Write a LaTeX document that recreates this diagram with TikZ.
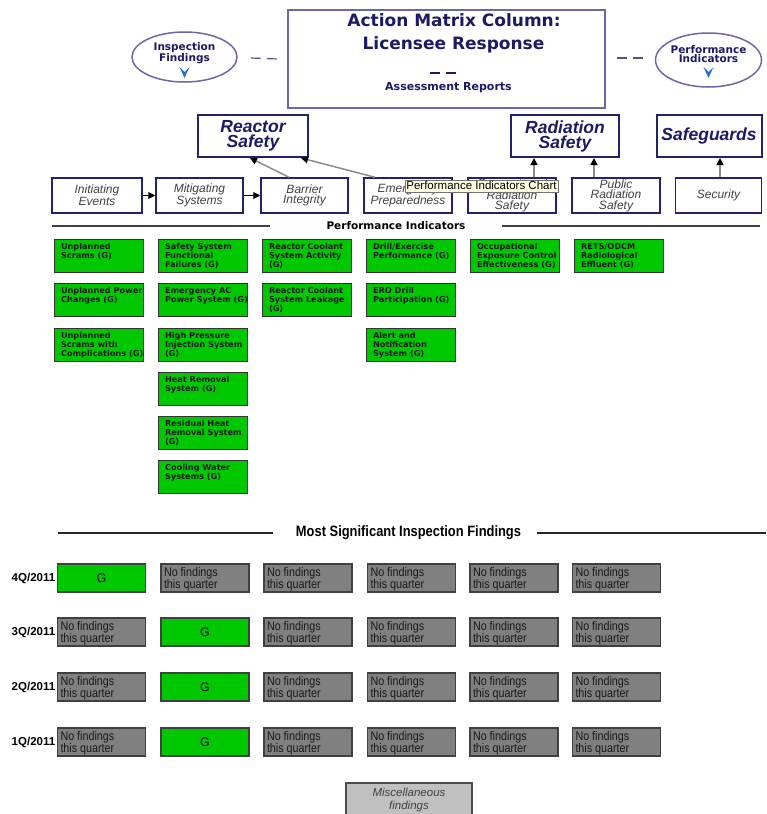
\documentclass[tikz,border=0pt]{standalone}
\usepackage{fontspec}
\setmainfont{Liberation Sans}
\newfontfamily\verd{DejaVu Sans}
\newfontfamily\narrowsf[FakeStretch=0.86]{Liberation Sans}
\usepackage{tikz}
\usetikzlibrary{arrows.meta,positioning,shapes.geometric,calc}

\definecolor{NavyText}{RGB}{26,26,102}
\definecolor{FrameBlue}{RGB}{104,104,170}
\definecolor{BoxNavy}{RGB}{34,34,112}
\definecolor{PIGreen}{RGB}{0,200,0}
\definecolor{NoFind}{RGB}{128,128,128}
\definecolor{MiscGrey}{RGB}{192,192,192}
\definecolor{TipYellow}{RGB}{255,255,225}
\definecolor{ChevBlue}{RGB}{40,110,210}

\newcommand{\pilines}[1]{\parbox[c][25pt][t]{76pt}{\begin{tabular}[t]{@{}l@{}}#1\end{tabular}}}
\newcommand{\nflines}{\parbox[c][22pt][t]{82pt}{\raggedright No findings\\this quarter}}

\tikzset{
  cornerstone/.style={draw=BoxNavy, line width=2pt, fill=white, minimum height=42pt, inner sep=0pt, align=center, text=NavyText, font=\fontsize{17.5}{15}\selectfont\bfseries\itshape},
  pillar/.style={draw=BoxNavy, line width=1.5pt, fill=white, minimum width=87pt, minimum height=35pt, inner sep=0pt, align=center, text=black!75, font=\fontsize{12}{10.5}\selectfont\itshape},
  pibox/.style={draw=black!80, line width=1pt, fill=PIGreen, minimum width=89pt, minimum height=33pt, inner xsep=6.5pt, inner ysep=4pt, anchor=north west, text=black!90, font=\verd\bfseries\fontsize{8.2}{9}\selectfont},
  nfbox/.style={draw=black!75, line width=1.2pt, fill=NoFind, minimum width=88pt, minimum height=28pt, inner xsep=3pt, inner ysep=3pt, text=black!90, font=\narrowsf\fontsize{12.5}{11.5}\selectfont},
  gbox/.style={draw=black!75, line width=1.2pt, fill=PIGreen, minimum width=88pt, minimum height=28pt, inner sep=0pt, font=\fontsize{12.5}{12.5}\selectfont},
  rowlab/.style={inner sep=0pt, font=\bfseries\fontsize{11.5}{11.5}\selectfont},
  hoop/.style={ellipse, draw=FrameBlue, line width=1.5pt, fill=white, inner sep=0pt},
  hooptext/.style={align=center, inner sep=0pt, text=NavyText, font=\verd\bfseries\fontsize{10.5}{9.5}\selectfont},
  flow/.style={line width=1pt, -{Triangle[length=7pt,width=7pt]}},
  feed/.style={draw=black!45, line width=1.5pt, -{Triangle[length=7pt,width=7pt,color=black]}},
  joiner/.style={draw=FrameBlue!80!black, line width=1.2pt, dash pattern=on 10pt off 6pt},
  rule/.style={draw=black!75, line width=1.5pt}
}

\begin{document}
\begin{tikzpicture}[x=1pt,y=-1pt]
\useasboundingbox (0,0) rectangle (766,814);
\fill[white] (0,0) rectangle (766,814);
\clip (0,0) rectangle (766,814);

% Action matrix
\node[draw=FrameBlue, line width=1.5pt, minimum width=317pt, minimum height=98pt] (amc) at (446.5,59) {};
\node[inner sep=0pt, text=NavyText, font=\verd\bfseries\fontsize{17}{17}\selectfont] (amct) at (454,20) {Action Matrix Column:};
\node[inner sep=0pt, text=NavyText, font=\verd\bfseries\fontsize{17}{17}\selectfont] (lrt) at (453.5,45) {Licensee Response};
\coordinate (amd) at (430,73);
\draw[joiner, draw=NavyText] (amd) -- ++(28,0);
\node[inner sep=0pt, text=NavyText, font=\verd\bfseries\fontsize{11}{11}\selectfont] (art) at (448.5,88) {Assessment Reports};

\node[hoop, minimum width=105pt, minimum height=50pt] (insp) at (184.5,57) {};
\node[hooptext] (inspt) at (184.5,53) {Inspection\\Findings};
\fill[ChevBlue] ($(insp.center)+(-5,10)$) -- ($(insp.center)+(0,15)$) -- ($(insp.center)+(5,10)$) -- ($(insp.center)+(0,21)$) -- cycle;
\node[hoop, minimum width=106pt, minimum height=54pt] (perf) at (708.5,60) {};
\node[hooptext] (perft) at (708.5,54) {Performance\\Indicators};
\fill[ChevBlue] ($(perf.center)+(-5,7)$) -- ($(perf.center)+(0,12)$) -- ($(perf.center)+(5,7)$) -- ($(perf.center)+(0,18)$) -- cycle;
\draw[joiner] ($(insp.east)+(13,1)$) -- ($(amc.west)+(-10,0)$);
\draw[joiner] ($(amc.east)+(11,-1)$) -- ($(perf.west)+(-12,-2)$);

% Cornerstones
\node[cornerstone, minimum width=110pt] (rs) at (253,136) {Reactor\\Safety};
\node[cornerstone, minimum width=108pt] (ras) at (565,136) {Radiation\\Safety};
\node[cornerstone, minimum width=105pt] (sg) at (709,136) {Safeguards};

\node[pillar, minimum width=90pt] (ie) at (97,195.5) {Initiating\\Events};
\node[pillar] (ms) at (199.5,195.5) {Mitigating\\Systems};
\node[pillar] (bi) at (304.5,195.5) {Barrier\\Integrity};
\node[pillar, minimum width=88pt] (ep) at (408,195.5) {Emergency\\Preparedness};
\node[pillar, minimum width=88pt] (ors) at (512,195.5) {Occupational\\Radiation\\Safety};
\node[pillar, minimum width=88pt] (prs) at (616,195.5) {Public\\Radiation\\Safety};
\node[pillar, minimum width=86pt] (se) at (718.5,195.5) {Security};

% Connectors
\draw[flow] (ie.east) -- (ms.west);
\draw[flow] (ms.east) -- (bi.west);
\draw[feed] ($(bi.north)+(-15.5,0)$) -- ($(rs.south)+(-3,0)$);
\draw[feed] ($(ep.north)+(-33,0)$) -- ($(rs.south)+(48,0)$);
\coordinate (ra1) at ($(ras.south)+(-31,0)$);
\coordinate (ra2) at ($(ras.south)+(29,0)$);
\coordinate (sa) at ($(se.north)+(1.5,0)$);
\draw[feed] (ra1 |- ors.north) -- (ra1);
\draw[feed] (ra2 |- prs.north) -- (ra2);
\draw[feed] (sa) -- (sa |- sg.south);

\node[draw=black!55, fill=TipYellow, line width=0.6pt, inner xsep=1.5pt, inner ysep=0pt, minimum height=12pt, text height=8.3pt, text depth=2.3pt, font=\fontsize{11.5}{11.5}\selectfont] (pic) at (481.5,186) {Performance Indicators Chart};

% Performance indicators
\node[inner sep=0pt, font=\verd\bfseries\fontsize{10.5}{10.5}\selectfont] (pih) at (396,226) {Performance Indicators};
\coordinate (pil) at (52,226);
\coordinate (pir) at (760,226);
\draw[rule] (pil) -- ([xshift=-56pt]pih.west);
\draw[rule] ([xshift=36pt]pih.east) -- (pir);

\node[pibox] (pi11) at (54,239) {\pilines{Unplanned\\Scrams (G)}};
\node[pibox] (pi12) at (54,283) {\pilines{Unplanned Power\\Changes (G)}};
\node[pibox] (pi13) at (54,328) {\pilines{Unplanned\\Scrams with\\Complications (G)}};
\node[pibox] (pi21) at (158,239) {\pilines{Safety System\\Functional\\Failures (G)}};
\node[pibox] (pi22) at (158,283) {\pilines{Emergency AC\\Power System (G)}};
\node[pibox] (pi23) at (158,328) {\pilines{High Pressure\\Injection System\\(G)}};
\node[pibox] (pi24) at (158,372) {\pilines{Heat Removal\\System (G)}};
\node[pibox] (pi25) at (158,416) {\pilines{Residual Heat\\Removal System\\(G)}};
\node[pibox] (pi26) at (158,460) {\pilines{Cooling Water\\Systems (G)}};
\node[pibox] (pi31) at (262,239) {\pilines{Reactor Coolant\\System Activity\\(G)}};
\node[pibox] (pi32) at (262,283) {\pilines{Reactor Coolant\\System Leakage\\(G)}};
\node[pibox] (pi41) at (366,239) {\pilines{Drill/Exercise\\Performance (G)}};
\node[pibox] (pi42) at (366,283) {\pilines{ERO Drill\\Participation (G)}};
\node[pibox] (pi43) at (366,328) {\pilines{Alert and\\Notification\\System (G)}};
\node[pibox] (pi51) at (470,239) {\pilines{Occupational\\Exposure Control\\Effectiveness (G)}};
\node[pibox] (pi61) at (574,239) {\pilines{RETS/ODCM\\Radiological\\Effluent (G)}};

% Inspection findings
\node[inner sep=0pt, font=\narrowsf\bfseries\fontsize{15}{15}\selectfont] (msf) at (408.5,533) {Most Significant Inspection Findings};
\coordinate (msl) at (58,533);
\coordinate (msr) at (766,533);
\draw[rule, draw=black!85] (msl) -- ([xshift=-23pt]msf.west);
\draw[rule, draw=black!85] ([xshift=16pt]msf.east) -- (msr);

\foreach \yr/\yy/\gc in {4/578/1, 3/632/2, 2/687/2, 1/742/2} {
  \foreach \xx [count=\c] in {101.5,205,308,411.5,514,616.5} {
    \ifnum\c=\gc
      \node[gbox] (f\yr\c) at (\xx,\yy) {G};
    \else
      \node[nfbox] (f\yr\c) at (\xx,\yy) {\nflines};
    \fi
  }
  \node[rowlab, left=1.5pt of f\yr1] (q\yr) {\yr Q/2011};
}

\node[draw=black!70, line width=1.2pt, fill=MiscGrey, minimum width=126pt, minimum height=34pt, inner sep=0pt, align=center, text=black!75, font=\fontsize{11.5}{13}\selectfont\itshape] (misc) at (409,800) {Miscellaneous\\findings};
\end{tikzpicture}
\end{document}
